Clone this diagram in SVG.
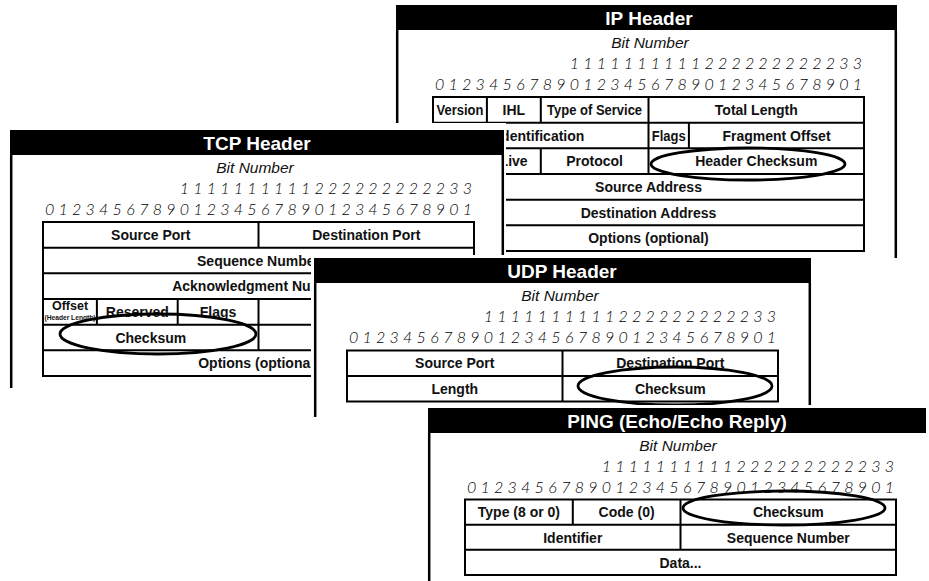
<svg xmlns="http://www.w3.org/2000/svg" width="929" height="581" viewBox="0 0 929 581">
<style>
.bg{fill:#fff}
.bar{fill:#000}
.title{font-family:"Liberation Sans",Arial,sans-serif;font-weight:bold;font-size:19px;fill:#fff;text-anchor:middle}
.bitn{font-family:"Liberation Sans",Arial,sans-serif;font-style:italic;font-size:15.5px;fill:#111;text-anchor:middle}
.bit{font-family:"Lato","Liberation Sans",sans-serif;font-style:italic;font-weight:300;font-size:16px;fill:#000;text-anchor:middle}
.cell{font-family:"Liberation Sans",Arial,sans-serif;font-weight:bold;font-size:14px;fill:#111;text-anchor:middle}
.small{font-family:"Liberation Sans",Arial,sans-serif;font-weight:bold;fill:#111;text-anchor:middle}
.border{stroke:#000;stroke-width:2.5;fill:none}
.grid{stroke:#000;stroke-width:2;fill:none}
.circle{stroke:#000;stroke-width:2.8;fill:none}
</style>
<defs>
<g id="bits">
<text class="bit" y="0" x="141.4 154.9 168.4 181.9 195.3 208.8 222.3 235.7 249.2 262.7 276.1 289.6 303.1 316.6 330.0 343.5 357.0 370.4 383.9 397.4 410.8 424.3">1111111111222222222233</text>
<text class="bit" y="21" x="6.7 20.2 33.7 47.1 60.6 74.1 87.6 101.0 114.5 128.0 141.4 154.9 168.4 181.9 195.3 208.8 222.3 235.7 249.2 262.7 276.1 289.6 303.1 316.6 330.0 343.5 357.0 370.4 383.9 397.4 410.8 424.3">01234567890123456789012345678901</text>
</g>
</defs>
<rect width="929" height="581" fill="#fff"/>

<g id="ip-header">
<rect class="bar" x="396" y="5" width="501" height="25"/>
<text class="title" x="649" y="24.5">IP Header</text>
<path class="border" d="M397.2 30V125M895.8 30V258"/>
<text class="bitn" x="650" y="48">Bit Number</text>
<use href="#bits" x="433" y="69"/>
<rect class="grid" x="433" y="97" width="431" height="154"/>
<path class="grid" d="M433 122.7H864M433 148.3H864M433 174H864M433 199.7H864M433 225.3H864M486.9 97V122.7M540.8 97V122.7M648.5 97V174M688.9 122.7V148.3M540.8 148.3V174"/>
<text class="cell" x="460" y="114.8" textLength="47" lengthAdjust="spacingAndGlyphs">Version</text>
<text class="cell" x="513.8" y="114.8">IHL</text>
<text class="cell" x="594.6" y="114.8" textLength="95" lengthAdjust="spacingAndGlyphs">Type of Service</text>
<text class="cell" x="756.3" y="114.8">Total Length</text>
<text class="cell" x="540.8" y="140.5">Identification</text>
<text class="cell" x="668.7" y="140.5" textLength="34" lengthAdjust="spacingAndGlyphs">Flags</text>
<text class="cell" x="776.5" y="140.5">Fragment Offset</text>
<text class="cell" x="486.9" y="166.1">Time to Live</text>
<text class="cell" x="594.6" y="166.1">Protocol</text>
<text class="cell" x="756.3" y="166.1">Header Checksum</text>
<text class="cell" x="648.5" y="191.8">Source Address</text>
<text class="cell" x="648.5" y="217.5">Destination Address</text>
<text class="cell" x="648.5" y="243.1">Options (optional)</text>
<ellipse class="circle" cx="748" cy="164" rx="97" ry="16"/>
</g>

<g id="tcp-header">
<rect class="bg" x="0" y="123" width="506" height="270"/>
<rect class="bar" x="10" y="130" width="494" height="25"/>
<text class="title" x="257" y="149.5">TCP Header</text>
<path class="border" d="M11.2 155V388M502.8 155V260"/>
<text class="bitn" x="255" y="173">Bit Number</text>
<use href="#bits" x="43" y="194"/>
<rect class="grid" x="43" y="222" width="431" height="154"/>
<path class="grid" d="M43 247.7H474M43 273.3H474M43 299H474M43 324.7H474M43 350.3H474M258.5 222V247.7M96.9 299V324.7M177.7 299V324.7M258.5 299V350.3"/>
<text class="cell" x="150.8" y="239.8">Source Port</text>
<text class="cell" x="366.3" y="239.8">Destination Port</text>
<text class="cell" x="258.5" y="265.5">Sequence Number</text>
<text class="cell" x="258.5" y="291.1">Acknowledgment Number</text>
<text class="small" x="70" y="309.5" font-size="12.5">Offset</text>
<text class="small" x="70" y="320" font-size="7" textLength="51" lengthAdjust="spacingAndGlyphs">(Header Length)</text>
<text class="cell" x="137.3" y="316.8">Reserved</text>
<text class="cell" x="218.1" y="316.8">Flags</text>
<text class="cell" x="150.8" y="342.5">Checksum</text>
<text class="cell" x="258.5" y="368.1">Options (optional)</text>
<ellipse class="circle" cx="158" cy="334" rx="98" ry="20"/>
</g>

<g id="udp-header">
<rect class="bg" x="311" y="255" width="504" height="165"/>
<rect class="bar" x="314" y="258" width="497" height="25"/>
<text class="title" x="562" y="277.5">UDP Header</text>
<path class="border" d="M315.2 283V417M809.8 283V410"/>
<text class="bitn" x="560" y="301">Bit Number</text>
<use href="#bits" x="347" y="322"/>
<rect class="grid" x="347" y="350.5" width="431" height="51"/>
<path class="grid" d="M347 376H778M562.5 350.5V401.5"/>
<text class="cell" x="454.8" y="368.3">Source Port</text>
<text class="cell" x="670.3" y="368.3">Destination Port</text>
<text class="cell" x="454.8" y="393.8">Length</text>
<text class="cell" x="670.3" y="393.8">Checksum</text>
<ellipse class="circle" cx="675" cy="386" rx="97" ry="19"/>
</g>

<g id="ping">
<rect class="bg" x="421" y="405" width="508" height="176"/>
<rect class="bar" x="428" y="408" width="498" height="25"/>
<text class="title" x="677" y="427.5">PING (Echo/Echo Reply)</text>
<path class="border" d="M429.2 433V581"/>
<text class="bitn" x="678" y="451">Bit Number</text>
<use href="#bits" x="465" y="472"/>
<rect class="grid" x="465" y="499.5" width="431" height="75.5"/>
<path class="grid" d="M465 524.7H896M465 549.8H896M572.8 499.5V524.7M680.5 499.5V549.8"/>
<text class="cell" x="518.9" y="517.3">Type (8 or 0)</text>
<text class="cell" x="626.6" y="517.3">Code (0)</text>
<text class="cell" x="788.3" y="517.3">Checksum</text>
<text class="cell" x="572.8" y="542.5">Identifier</text>
<text class="cell" x="788.3" y="542.5">Sequence Number</text>
<text class="cell" x="680.5" y="567.7">Data...</text>
<ellipse class="circle" cx="784" cy="508" rx="101" ry="17"/>
</g>
</svg>
